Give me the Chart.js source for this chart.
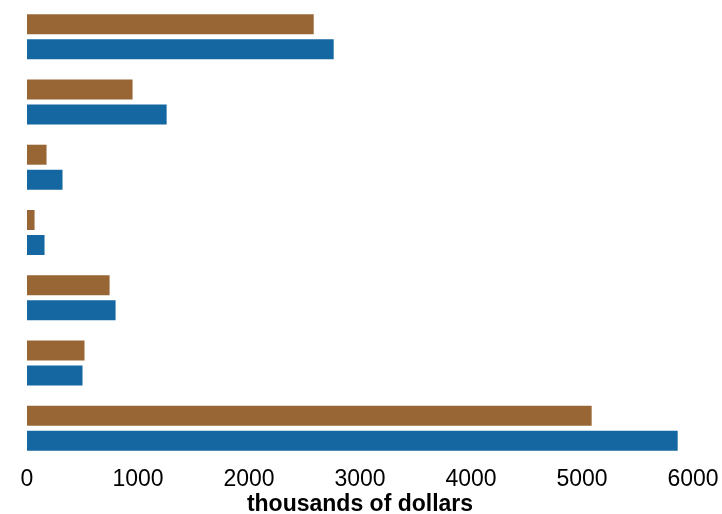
<!DOCTYPE html>
<html>
<head>
<meta charset="utf-8">
<script src="https://cdn.jsdelivr.net/npm/chart.js@4.4.1/dist/chart.umd.min.js"></script>
<style>
  html, body { margin: 0; padding: 0; background: #fff; }
  #wrap { width: 722px; height: 514px; }
</style>
</head>
<body>
<div id="wrap"><canvas id="chart"></canvas></div>
<script>
// categories (unlabelled in the picture)
const categories = ['1', '2', '3', '4', '5', '6', '7'];
// thousands of dollars
const brownValues = [2583, 951, 176, 68, 744, 518, 5087];
const blueValues = [2763, 1258, 320, 158, 798, 500, 5862];
const xTicks = [0, 1000, 2000, 3000, 4000, 5000, 6000];

const fontFamily = '"Liberation Sans", Arial, Helvetica, sans-serif';

new Chart(document.getElementById('chart'), {
  type: 'bar',
  data: {
    labels: categories,
    datasets: [
      {
        label: 'Series 1',
        data: brownValues,
        backgroundColor: '#986634',
        borderWidth: 0
      },
      {
        label: 'Series 2',
        data: blueValues,
        backgroundColor: '#1567a1',
        borderWidth: 0
      }
    ]
  },
  options: {
    indexAxis: 'y',
    responsive: true,
    maintainAspectRatio: false,
    animation: false,
    devicePixelRatio: 1,
    layout: { padding: { left: 27, right: 29, top: 4, bottom: 0 } },
    categoryPercentage: 0.766,
    barPercentage: 0.8,
    plugins: {
      legend: { display: false },
      tooltip: { enabled: false }
    },
    scales: {
      x: {
        min: 0,
        max: 6000,
        afterBuildTicks: (axis) => { axis.ticks = xTicks.map(v => ({ value: v })); },
        // let the layout padding alone decide the plot width
        afterFit: (axis) => { axis.paddingLeft = 0; axis.paddingRight = 0; },
        grid: { display: false, drawTicks: false },
        border: { display: false },
        ticks: {
          color: '#000',
          padding: 9.5,
          callback: (v) => String(v),
          font: { family: fontFamily, size: 23, lineHeight: 18 / 23 }
        },
        title: {
          display: true,
          text: 'thousands of dollars',
          color: '#000',
          padding: { top: -2, bottom: 0 },
          font: { family: fontFamily, size: 23, weight: 'bold', lineHeight: 18 / 23 }
        }
      },
      y: {
        display: false
      }
    }
  }
});
</script>
</body>
</html>
